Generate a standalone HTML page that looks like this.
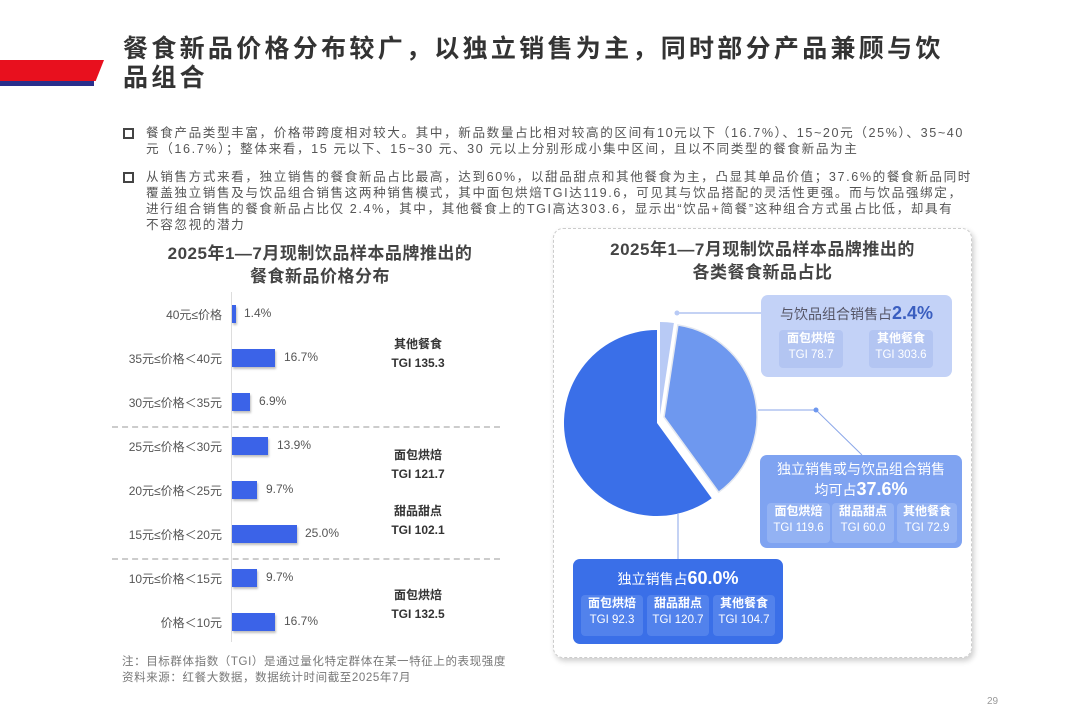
<!DOCTYPE html>
<html><head><meta charset="utf-8"><style>
*{margin:0;padding:0;box-sizing:border-box}
body{width:1080px;height:720px;background:#fff;position:relative;overflow:hidden;font-family:"Liberation Sans","Noto Sans CJK SC",sans-serif;color:#555}
.abs{position:absolute;white-space:nowrap}
.title{left:123px;font-size:25px;font-weight:bold;color:#333;letter-spacing:3.3px}
.para{left:146px;font-size:12.6px;color:#555;line-height:16px;letter-spacing:1.6px}
.bul{left:123px;width:11px;height:11px;border:2px solid #444}
.ct{font-size:17px;font-weight:bold;color:#444;text-align:center;line-height:23px;letter-spacing:.5px}
.lab{font-size:12px;color:#555;text-align:right;width:112px;left:110px}
.bar{background:#3b63e8;height:18px;left:232px;box-shadow:1px 2px 2px rgba(0,0,0,.25)}
.val{font-size:12px;color:#555}
.tgi{font-size:12px;font-weight:bold;color:#333;text-align:center;width:80px;left:378px;line-height:19px}
.dash{left:112px;width:388px;border-top:2px dashed #ccc}
.box{position:absolute;border-radius:7px;text-align:center}
.cell{position:absolute;border-radius:4px;font-size:11.5px;line-height:17px;text-align:center}
.cell b{display:block;font-size:12px}
</style></head><body>
<div class="abs" style="left:0;top:60px;width:104px;height:21px;background:#e8101e;clip-path:polygon(0 0,100% 0,92% 100%,0 100%)"></div>
<div class="abs" style="left:0;top:81px;width:94px;height:5px;background:#2a2f8c"></div>
<div class="abs title" style="top:29px">餐食新品价格分布较广，以独立销售为主，同时部分产品兼顾与饮</div>
<div class="abs title" style="top:58px">品组合</div>

<div class="abs bul" style="top:128px"></div>
<div class="abs para" style="top:125px">餐食产品类型丰富，价格带跨度相对较大。其中，新品数量占比相对较高的区间有10元以下（16.7%）、15~20元（25%）、35~40<br>元（16.7%）；整体来看，15 元以下、15~30 元、30 元以上分别形成小集中区间，且以不同类型的餐食新品为主</div>
<div class="abs bul" style="top:172px"></div>
<div class="abs para" style="top:169px">从销售方式来看，独立销售的餐食新品占比最高，达到60%，以甜品甜点和其他餐食为主，凸显其单品价值；37.6%的餐食新品同时<br>覆盖独立销售及与饮品组合销售这两种销售模式，其中面包烘焙TGI达119.6，可见其与饮品搭配的灵活性更强。而与饮品强绑定，<br>进行组合销售的餐食新品占比仅 2.4%，其中，其他餐食上的TGI高达303.6，显示出“饮品+简餐”这种组合方式虽占比低，却具有<br>不容忽视的潜力</div>

<div class="abs ct" style="left:110px;width:420px;top:242px">2025年1—7月现制饮品样本品牌推出的<br>餐食新品价格分布</div>
<div class="abs" style="left:231px;top:292px;width:1px;height:350px;background:#ddd"></div>
<div class="abs dash" style="top:426px"></div>
<div class="abs dash" style="top:558px"></div>

<div class="abs lab" style="top:306px">40元≤价格</div><div class="abs bar" style="top:305px;width:4px"></div><div class="abs val" style="left:244px;top:306px">1.4%</div>
<div class="abs lab" style="top:350px">35元≤价格＜40元</div><div class="abs bar" style="top:349px;width:43px"></div><div class="abs val" style="left:284px;top:350px">16.7%</div>
<div class="abs lab" style="top:394px">30元≤价格＜35元</div><div class="abs bar" style="top:393px;width:18px"></div><div class="abs val" style="left:259px;top:394px">6.9%</div>
<div class="abs lab" style="top:438px">25元≤价格＜30元</div><div class="abs bar" style="top:437px;width:36px"></div><div class="abs val" style="left:277px;top:438px">13.9%</div>
<div class="abs lab" style="top:482px">20元≤价格＜25元</div><div class="abs bar" style="top:481px;width:25px"></div><div class="abs val" style="left:266px;top:482px">9.7%</div>
<div class="abs lab" style="top:526px">15元≤价格＜20元</div><div class="abs bar" style="top:525px;width:65px"></div><div class="abs val" style="left:305px;top:526px">25.0%</div>
<div class="abs lab" style="top:570px">10元≤价格＜15元</div><div class="abs bar" style="top:569px;width:25px"></div><div class="abs val" style="left:266px;top:570px">9.7%</div>
<div class="abs lab" style="top:614px">价格＜10元</div><div class="abs bar" style="top:613px;width:43px"></div><div class="abs val" style="left:284px;top:614px">16.7%</div>

<div class="abs tgi" style="top:335px">其他餐食<br>TGI 135.3</div>
<div class="abs tgi" style="top:446px">面包烘焙<br>TGI 121.7</div>
<div class="abs tgi" style="top:502px">甜品甜点<br>TGI 102.1</div>
<div class="abs tgi" style="top:586px">面包烘焙<br>TGI 132.5</div>

<div class="abs" style="left:122px;top:654px;font-size:11.5px;color:#777;line-height:16px;letter-spacing:.6px">注：目标群体指数（TGI）是通过量化特定群体在某一特征上的表现强度<br>资料来源：红餐大数据，数据统计时间截至2025年7月</div>

<div class="abs" style="left:553px;top:228px;width:419px;height:430px;border:1.5px dashed #ccc;border-radius:10px;box-shadow:2px 3px 6px rgba(0,0,0,.2)"></div>
<div class="abs ct" style="left:553px;width:419px;top:238px">2025年1—7月现制饮品样本品牌推出的<br>各类餐食新品占比</div>

<svg class="abs" style="left:0;top:0" width="1080" height="720">
<path d="M657 423 L711.7 498.2 A93 93 0 1 1 657 330 Z" fill="#3a6fe8"/>
<path d="M664 417 L677.9 325 A93 93 0 0 1 718.7 492.2 Z" fill="#6e98ef" stroke="#e4e8f0" stroke-width="1.5"/>
<path d="M660 415 L660 322 A93 93 0 0 1 673.9 323 Z" fill="#b8caf5"/>
<g stroke="#8aa6e8" stroke-width="1" fill="none">
<polyline points="677,313 682,313 761,313"/>
<polyline points="758,410 816,410 862,455"/>
<line x1="678" y1="514" x2="678" y2="559"/>
</g>
<circle cx="677" cy="313" r="2.5" fill="#b8caf5"/>
<circle cx="816" cy="410" r="2.5" fill="#6e98ef"/>
</svg>

<div class="box" style="left:761px;top:295px;width:191px;height:82px;background:#c3d2f7">
<div style="margin-top:8px;font-size:14px;color:#556">与饮品组合销售占<b style="font-size:18px;color:#3a5ec0">2.4%</b></div>
<div class="cell" style="left:18px;top:35px;width:64px;height:38px;background:#b3c5f2;color:#fff"><b style="color:#fff">面包烘焙</b>TGI 78.7</div>
<div class="cell" style="left:108px;top:35px;width:64px;height:38px;background:#b3c5f2;color:#fff"><b style="color:#fff">其他餐食</b>TGI 303.6</div>
</div>

<div class="box" style="left:760px;top:455px;width:202px;height:93px;background:#7fa3f1;color:#fff">
<div style="margin-top:4px;font-size:14px;line-height:20px">独立销售或与饮品组合销售<br>均可占<b style="font-size:18px">37.6%</b></div>
<div class="cell" style="left:7px;top:48px;width:63px;height:40px;background:#93b2f3"><b>面包烘焙</b>TGI 119.6</div>
<div class="cell" style="left:72px;top:48px;width:62px;height:40px;background:#93b2f3"><b>甜品甜点</b>TGI 60.0</div>
<div class="cell" style="left:137px;top:48px;width:60px;height:40px;background:#93b2f3"><b>其他餐食</b>TGI 72.9</div>
</div>

<div class="box" style="left:573px;top:559px;width:210px;height:85px;background:#3a6fe8;color:#fff">
<div style="margin-top:9px;font-size:14px">独立销售占<b style="font-size:18px">60.0%</b></div>
<div class="cell" style="left:8px;top:36px;width:62px;height:41px;background:#5282ec"><b>面包烘焙</b>TGI 92.3</div>
<div class="cell" style="left:74px;top:36px;width:62px;height:41px;background:#5282ec"><b>甜品甜点</b>TGI 120.7</div>
<div class="cell" style="left:140px;top:36px;width:62px;height:41px;background:#5282ec"><b>其他餐食</b>TGI 104.7</div>
</div>

<div class="abs" style="left:987px;top:696px;font-size:10px;color:#999">29</div>
</body></html>
